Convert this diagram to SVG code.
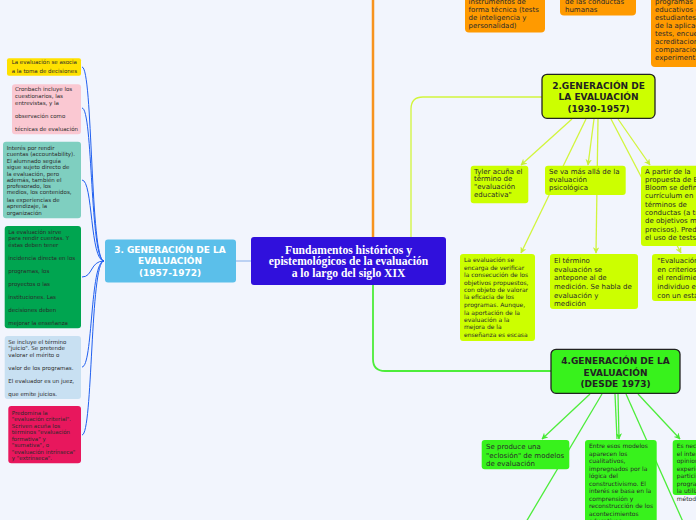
<svg xmlns="http://www.w3.org/2000/svg" width="696" height="520" viewBox="0 0 696 520">
<defs>
<style>
.t{font-family:"DejaVu Sans","Verdana",sans-serif;fill:#2a2a2a}
.s55{font-size:5.5px}
.s6{font-size:6px}
.s7{font-size:7px}
.h{font-family:"DejaVu Sans","Verdana",sans-serif;font-weight:bold;font-size:9px;text-anchor:middle}
.blue{fill:none;stroke:#2160f0;stroke-width:1}
.lime{fill:none;stroke:#d2f53c;stroke-width:1.3}
.grn{fill:none;stroke:#4ded3a;stroke-width:1.3}
</style>
<marker id="al" viewBox="0 0 10 10" refX="9" refY="5" markerWidth="5" markerHeight="5" orient="auto"><path d="M0,0 L10,5 L0,10 L3,5 Z" fill="#c8f03a"/></marker>
<marker id="ag" viewBox="0 0 10 10" refX="9" refY="5" markerWidth="5" markerHeight="5" orient="auto"><path d="M0,0 L10,5 L0,10 L3,5 Z" fill="#45e832"/></marker>
</defs>
<rect width="696" height="520" fill="#f2f5fd"/>

<g id="connectors">
<line x1="373" y1="0" x2="373" y2="237" stroke="#f7931e" stroke-width="2.5"/>
<path class="lime" d="M411,237 V109 Q411,97 423,97 H542"/>
<path d="M373,285 V359 Q373,371 385,371 H551" fill="none" stroke="#4ded3a" stroke-width="1.8"/>
<line x1="236" y1="261" x2="251" y2="261" stroke="#a9c5ef" stroke-width="1.5"/>
<path class="blue" d="M82,67 C93,67 90,261 104,261"/>
<path class="blue" d="M82,108 C93,108 90,261 104,261"/>
<path class="blue" d="M82,180 C93,180 90,261 104,261"/>
<path class="blue" d="M82,277 C93,277 90,261 104,261"/>
<path class="blue" d="M82,367 C93,367 90,261 104,261"/>
<path class="blue" d="M82,435 C93,435 90,261 104,261"/>
<line class="lime" x1="572" y1="119" x2="521" y2="165" marker-end="url(#al)"/>
<line class="lime" x1="586" y1="119" x2="521" y2="253" marker-end="url(#al)"/>
<line class="lime" x1="594" y1="119" x2="588" y2="165" marker-end="url(#al)"/>
<line class="lime" x1="598" y1="119" x2="596" y2="253" marker-end="url(#al)"/>
<line class="lime" x1="618" y1="119" x2="650" y2="165" marker-end="url(#al)"/>
<line class="lime" x1="611" y1="119" x2="681" y2="253" marker-end="url(#al)"/>
<line class="grn" x1="590" y1="394" x2="542" y2="439" marker-end="url(#ag)"/>
<line class="grn" x1="602" y1="394" x2="526" y2="522"/>
<line class="grn" x1="615" y1="394" x2="617" y2="439"/>
<line class="grn" x1="618" y1="394" x2="619" y2="439" marker-end="url(#ag)"/>
<line class="grn" x1="626" y1="394" x2="684" y2="524"/>
<line class="grn" x1="638" y1="394" x2="680" y2="439" marker-end="url(#ag)"/>
</g>

<g id="orange1"><rect x="465" y="-20" width="80" height="52.5" rx="4" fill="#ff9a00"/>
<text class="t s7"><tspan x="468.5" y="3.5">instrumentos de</tspan><tspan x="468.5" y="11.8">forma técnica (tests</tspan><tspan x="468.5" y="19.8">de inteligencia y</tspan><tspan x="468.5" y="28.2">personalidad)</tspan></text></g>
<g id="orange2"><rect x="560" y="-20" width="76" height="35.5" rx="4" fill="#ff9a00"/>
<text class="t s7"><tspan x="565" y="3.5">de las conductas</tspan><tspan x="565" y="12">humanas</tspan></text></g>
<g id="orange3"><rect x="651" y="-20" width="60" height="87" rx="4" fill="#ff9a00"/>
<text class="t s7"><tspan x="655" y="3.5">programas</tspan><tspan x="655" y="11.8">educativos e</tspan><tspan x="655" y="19.8">estudiantes</tspan><tspan x="655" y="27.8">de la aplicación</tspan><tspan x="655" y="35.8">tests, encuestas</tspan><tspan x="655" y="43.8">acreditaciones</tspan><tspan x="655" y="51.8">comparaciones</tspan><tspan x="655" y="59.8">experimentales</tspan></text></g>

<g id="central"><rect x="251" y="237" width="195" height="48" rx="3" fill="#3010dc"/>
<text font-family="'Liberation Serif',serif" font-weight="bold" font-size="11.6" fill="#fff" text-anchor="middle"><tspan x="348.5" y="253.8">Fundamentos históricos y</tspan><tspan x="348.5" y="265.2">epistemológicos de la evaluación</tspan><tspan x="348.5" y="276.6">a lo largo del siglo XIX</tspan></text></g>

<g id="gen3"><rect x="105" y="239.5" width="131" height="43" rx="3" fill="#5bbfea"/>
<text class="h" fill="#fff"><tspan x="170" y="252.6">3. GENERACIÓN DE LA</tspan><tspan x="170" y="264">EVALUACIÓN</tspan><tspan x="170" y="275.6">(1957-1972)</tspan></text></g>

<g id="l1"><rect x="7" y="58.3" width="74" height="17.4" rx="2" fill="#ffe100"/>
<text class="t s55"><tspan x="11.7" y="64.3">La evaluación se asocia</tspan><tspan x="11.7" y="72.7">a la toma de decisiones</tspan></text></g>
<g id="l2"><rect x="12" y="84.3" width="69" height="50" rx="3" fill="#fac8d2"/>
<text class="t s55" fill="#444"><tspan x="15" y="91.3">Cronbach incluye los</tspan><tspan x="15" y="98.3">cuestionarios, las</tspan><tspan x="15" y="105.3">entrevistas, y la</tspan><tspan x="15" y="118.3">observación como</tspan><tspan x="15" y="131">técnicas de evaluación</tspan></text></g>
<g id="l3"><rect x="3" y="141.7" width="78" height="76.6" rx="3" fill="#7fcfc0"/>
<text class="t s55"><tspan x="6.7" y="149.7">Interés por rendir</tspan><tspan x="6.7" y="156">cuentas (accountability).</tspan><tspan x="6.7" y="163">El alumnado seguía</tspan><tspan x="6.7" y="169.3">sigue sujeto directo de</tspan><tspan x="6.7" y="175.7">la evaluación, pero</tspan><tspan x="6.7" y="182">además, también el</tspan><tspan x="6.7" y="188">profesorado, los</tspan><tspan x="6.7" y="194.3">medios, los contenidos,</tspan><tspan x="6.7" y="201.7">las experiencias de</tspan><tspan x="6.7" y="208">aprendizaje, la</tspan><tspan x="6.7" y="215.3">organización</tspan></text></g>
<g id="l4"><rect x="4.7" y="226" width="76.3" height="102.3" rx="3" fill="#00a550"/>
<text class="t s55" fill="#1c2a1c"><tspan x="8.3" y="234.3">La evaluación sirve</tspan><tspan x="8.3" y="240.3">para rendir cuentas. Y</tspan><tspan x="8.3" y="246.7">éstas deben tener</tspan><tspan x="8.3" y="260.3">incidencia directa en los</tspan><tspan x="8.3" y="273">programas, los</tspan><tspan x="8.3" y="286">proyectos o las</tspan><tspan x="8.3" y="298.7">instituciones. Las</tspan><tspan x="8.3" y="311.7">decisiones deben</tspan><tspan x="8.3" y="324.7">mejorar la enseñanza</tspan></text></g>
<g id="l5"><rect x="4.7" y="336" width="76.3" height="63" rx="3" fill="#c8e0f2"/>
<text class="t s55"><tspan x="8.3" y="344">Se incluye el término</tspan><tspan x="8.3" y="350">"juicio". Se pretende</tspan><tspan x="8.3" y="357">valorar el mérito o</tspan><tspan x="8.3" y="369.7">valor de los programas.</tspan><tspan x="8.3" y="383">El evaluador es un juez,</tspan><tspan x="8.3" y="395.7">que emite juicios.</tspan></text></g>
<g id="l6"><rect x="8.3" y="406" width="72.7" height="57.3" rx="3" fill="#e8175d"/>
<text class="t s55"><tspan x="11.7" y="415.3">Predomina la</tspan><tspan x="11.7" y="421.3">"evaluación criterial".</tspan><tspan x="11.7" y="427.7">Scriven acuña los</tspan><tspan x="11.7" y="434.3">términos "evaluación</tspan><tspan x="11.7" y="440.7">formativa" y</tspan><tspan x="11.7" y="447">"sumativa", o</tspan><tspan x="11.7" y="453.7">"evaluación intrínseca"</tspan><tspan x="11.7" y="460">y "extrínseca".</tspan></text></g>

<g id="gen2"><rect x="542" y="74.3" width="113" height="44" rx="5" fill="#ccff00" stroke="#222" stroke-width="1.3"/>
<text class="h" fill="#222"><tspan x="598.5" y="89.3">2.GENERACIÓN DE</tspan><tspan x="598.5" y="100">LA EVALUACIÓN</tspan><tspan x="598.5" y="111.6">(1930-1957)</tspan></text></g>
<g id="tyler"><rect x="470.7" y="165.7" width="57.6" height="37.6" rx="3" fill="#ccff00"/>
<text class="t s7"><tspan x="474" y="173.5">Tyler acuña el</tspan><tspan x="474" y="181.2">término de</tspan><tspan x="474" y="189.2">"evaluación</tspan><tspan x="474" y="197.2">educativa"</tspan></text></g>
<g id="seva"><rect x="545" y="165.7" width="80.7" height="29.3" rx="3" fill="#ccff00"/>
<text class="t s7"><tspan x="549" y="173.5">Se va más allá de la</tspan><tspan x="549" y="181.8">evaluación</tspan><tspan x="549" y="190.2">psicológica</tspan></text></g>
<g id="apartir"><rect x="641" y="165.7" width="70" height="80.3" rx="3" fill="#ccff00"/>
<text class="t s7"><tspan x="645" y="173.5">A partir de la</tspan><tspan x="645" y="181.8">propuesta de B.</tspan><tspan x="645" y="189.8">Bloom se define</tspan><tspan x="645" y="198.2">currículum en</tspan><tspan x="645" y="206.5">términos de</tspan><tspan x="645" y="215.2">conductas (a través</tspan><tspan x="645" y="223.2">de objetivos más</tspan><tspan x="645" y="231.5">precisos). Predomina</tspan><tspan x="645" y="239.8">el uso de tests</tspan></text></g>
<g id="verificar"><rect x="460" y="254" width="75" height="87" rx="3" fill="#ccff00"/>
<text class="t s6"><tspan x="464" y="261.7">La evaluación se</tspan><tspan x="464" y="269.7">encarga de verificar</tspan><tspan x="464" y="277">la consecución de los</tspan><tspan x="464" y="284.7">objetivos propuestos,</tspan><tspan x="464" y="292">con objeto de valorar</tspan><tspan x="464" y="299.3">la eficacia de los</tspan><tspan x="464" y="307">programas. Aunque,</tspan><tspan x="464" y="314.7">la aportación de la</tspan><tspan x="464" y="322">evaluación a la</tspan><tspan x="464" y="329.3">mejora de la</tspan><tspan x="464" y="337">enseñanza es escasa</tspan></text></g>
<g id="termino"><rect x="550" y="254" width="88" height="55" rx="3" fill="#ccff00"/>
<text class="t s7"><tspan x="554" y="263.2">El término</tspan><tspan x="554" y="271.8">evaluación se</tspan><tspan x="554" y="280.2">antepone al de</tspan><tspan x="554" y="288.8">medición. Se habla de</tspan><tspan x="554" y="297.5">evaluación y</tspan><tspan x="554" y="305.8">medición</tspan></text></g>
<g id="criterios"><rect x="652" y="254" width="60" height="47" rx="3" fill="#ccff00"/>
<text class="t s7"><tspan x="657.3" y="263.2">"Evaluación</tspan><tspan x="657.3" y="271.8">en criterios</tspan><tspan x="657.3" y="280.2">el rendimiento</tspan><tspan x="657.3" y="288.8">individuo en</tspan><tspan x="657.3" y="297.5">con un estándar</tspan></text></g>

<g id="gen4"><rect x="551" y="349.3" width="129" height="44" rx="5" fill="#38f21c" stroke="#222" stroke-width="1.3"/>
<text class="h" fill="#222"><tspan x="615.5" y="364.3">4.GENERACIÓN DE LA</tspan><tspan x="615.5" y="375.6">EVALUACIÓN</tspan><tspan x="615.5" y="386.6">(DESDE 1973)</tspan></text></g>
<g id="eclosion"><rect x="481.7" y="440" width="87.6" height="29.3" rx="3" fill="#38f21c"/>
<text class="t s7"><tspan x="486" y="449.2">Se produce una</tspan><tspan x="486" y="457.5">"eclosión" de modelos</tspan><tspan x="486" y="465.8">de evaluación</tspan></text></g>
<g id="entre"><rect x="585" y="440" width="71.7" height="100" rx="3" fill="#38f21c"/>
<text class="t s6"><tspan x="589" y="448">Entre esos modelos</tspan><tspan x="589" y="455.7">aparecen los</tspan><tspan x="589" y="463.3">cualitativos,</tspan><tspan x="589" y="470.7">impregnados por la</tspan><tspan x="589" y="478">lógica del</tspan><tspan x="589" y="486">constructivismo. El</tspan><tspan x="589" y="493">interés se basa en la</tspan><tspan x="589" y="500.7">comprensión y</tspan><tspan x="589" y="508">reconstrucción de los</tspan><tspan x="589" y="515.7">acontecimientos</tspan><tspan x="589" y="523">educativos</tspan></text></g>
<g id="necesario"><rect x="672.7" y="440" width="40" height="55" rx="3" fill="#38f21c"/>
<text class="t s6"><tspan x="676.7" y="448">Es necesario</tspan><tspan x="676.7" y="455.7">el interés</tspan><tspan x="676.7" y="463.3">opiniones</tspan><tspan x="676.7" y="470.7">experiencias</tspan><tspan x="676.7" y="478">participantes</tspan><tspan x="676.7" y="486">programa</tspan><tspan x="676.7" y="493">la utilización</tspan><tspan x="676.7" y="500.7">métodos</tspan></text></g>
</svg>
